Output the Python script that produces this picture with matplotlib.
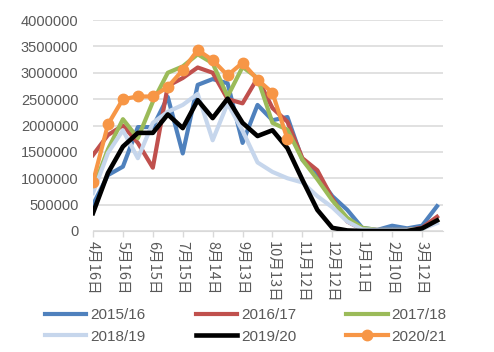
import matplotlib
matplotlib.use("Agg")
import matplotlib.pyplot as plt
import numpy as np

# half-monthly dates, values in millions
dates = ["4月16日", "5月1日", "5月16日", "5月31日", "6月15日", "6月30日",
         "7月15日", "7月30日", "8月14日", "8月29日", "9月13日", "9月28日",
         "10月13日", "10月28日", "11月12日", "11月27日", "12月12日", "12月27日",
         "1月11日", "1月26日", "2月10日", "2月25日", "3月12日", "3月27日"]

s1516 = [0.50, 1.06, 1.22, 1.97, 1.97, 2.54, 1.47, 2.77, 2.88, 2.80, 1.67, 2.39,
         2.10, 2.16, 1.35, 1.05, 0.66, 0.40, 0.06, 0.02, 0.10, 0.05, 0.10, 0.47]
s1617 = [1.44, 1.82, 2.00, 1.67, 1.20, 2.75, 2.90, 3.10, 3.00, 2.50, 2.42, 2.90,
         2.33, 2.07, 1.38, 1.15, 0.62, 0.18, 0.03, 0.02, 0.02, 0.02, 0.06, 0.27]
s1718 = [0.80, 1.55, 2.12, 1.76, 2.45, 3.00, 3.12, 3.35, 3.18, 2.55, 3.11, 2.90,
         2.05, 1.92, 1.35, 0.98, 0.58, 0.25, 0.06, 0.02, 0.02, 0.02, 0.04, 0.20]
s1819 = [0.72, 1.48, 1.91, 1.38, 2.05, 2.26, 2.39, 2.60, 1.72, 2.42, 1.90, 1.30,
         1.12, 1.00, 0.92, 0.66, 0.45, 0.18, 0.03, 0.02, 0.02, 0.02, 0.04, 0.15]
s1920 = [0.34, 1.10, 1.60, 1.86, 1.86, 2.21, 1.95, 2.48, 2.14, 2.51, 2.05, 1.80,
         1.91, 1.57, 0.97, 0.40, 0.06, 0.01, 0.0, 0.0, 0.0, 0.0, 0.05, 0.20]
s2021 = [0.93, 2.02, 2.50, 2.55, 2.55, 2.73, 3.05, 3.43, 3.24, 2.95, 3.19, 2.87,
         2.62, 1.74]

series = [("2015/16", s1516, "#4F81BD"),
          ("2016/17", s1617, "#C0504D"),
          ("2017/18", s1718, "#9BBB59"),
          ("2018/19", s1819, "#C6D6EC"),
          ("2019/20", s1920, "#000000"),
          ("2020/21", s2021, "#F79646")]

gray = "#595959"
fig = plt.figure(figsize=(4.94, 3.52), dpi=100)
ax = fig.add_axes([93/494, 1-231/352, 350/494, 211/352])

handles = {}
for name, vals, col in series:
    y = np.array(vals) * 1e6
    x = np.arange(len(y))
    if name == "2020/21":
        h, = ax.plot(x, y, color=col, lw=3, marker="o", ms=7.5, label=name)
    elif name == "2019/20":
        h, = ax.plot(x, y, color=col, lw=3.3, label=name)
    else:
        h, = ax.plot(x, y, color=col, lw=3, label=name)
    handles[name] = h

ax.set_xlim(0, 23.4)
ax.set_ylim(0, 4000000)
ax.set_yticks(np.arange(0, 4000001, 500000))
ax.set_yticklabels([str(v) for v in range(0, 4000001, 500000)],
                   family="Liberation Sans", fontsize=10.5, color=gray)
ax.grid(axis="y", color="#D9D9D9", lw=1.1)
ax.set_axisbelow(True)
ax.tick_params(axis="y", length=0, pad=10.5)

ax.set_xticks(np.arange(0, 24, 2))
ax.set_xticklabels(dates[::2], rotation=270, family=["Noto Sans CJK SC", "DejaVu Sans"],
                   fontsize=10.5, color=gray, ha="center", va="top")
ax.tick_params(axis="x", length=4, width=1, color="#D9D9D9", pad=3)

for s in ["top", "right", "left"]:
    ax.spines[s].set_visible(False)
ax.spines["bottom"].set_color("#D9D9D9")
ax.spines["bottom"].set_bounds(0, 23.4)

order = ["2015/16", "2018/19", "2016/17", "2019/20", "2017/18", "2020/21"]
leg = fig.legend([handles[n] for n in order], order, ncol=3, loc="upper left",
                 bbox_to_anchor=(45/494, 1-308/352), frameon=False,
                 prop={"family": "Liberation Sans", "size": 11},
                 handlelength=2.7, handletextpad=0.25, columnspacing=3.3,
                 labelspacing=0.5, borderpad=0, borderaxespad=0)
for t in leg.get_texts():
    t.set_color(gray)

fig.savefig("out.png", dpi=100)
